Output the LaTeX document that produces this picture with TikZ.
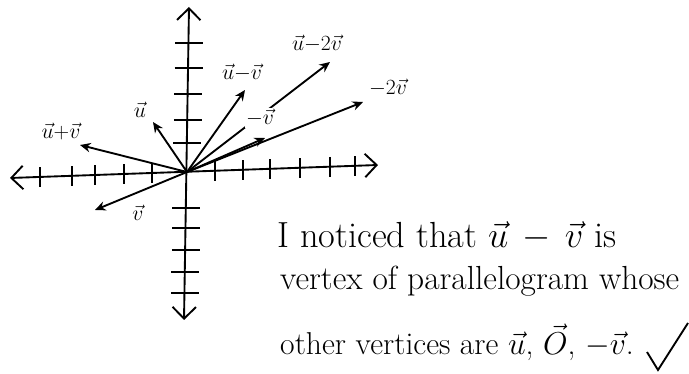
\documentclass[tikz,border=0pt]{standalone}
\usepackage{fix-cm}
\usepackage{amsmath}
\usepackage{tikz}
\usetikzlibrary{arrows.meta}

\tikzset{
  axis/.style={line width=1.6pt, {Straight Barb[length=10pt,width=20pt]}-{Straight Barb[length=10pt,width=20pt]}},
  vec/.style={line width=1.6pt, -{Stealth[length=9pt,width=8pt]}},
  lbl/.style={font=\fontsize{18.5}{21}\selectfont, inner sep=1pt},
  note/.style={font=\fontsize{28.5}{31}\selectfont, anchor=west, inner sep=0pt}
}

\begin{document}
\begin{tikzpicture}[x=0.03cm, y=-0.03cm]
    \useasboundingbox (0,0) rectangle (689,374);

    % Axes
    \coordinate (O) at (187,172);
    \coordinate (xl) at (10,178);
    \coordinate (xr) at (378,165);
    \coordinate (yt) at (189,7);
    \coordinate (yb) at (184,320);
    \draw[axis] (xl) -- (xr);
    \draw[axis] (yb) -- (yt);

    % Ticks
    \foreach \x in {40,72,95,124,152,215,243,270,300,330,355}
        \draw[line width=1.6pt] (\x,{172-(\x-187)*0.035-10}) -- ++(0,20);
    \foreach \y in {43,68,94,120,143,208,228,250,272,293}
        \draw[line width=1.6pt] ({187-(\y-172)*0.016-14},\y) -- ++(28,0);

    % Vector tips
    \coordinate (u) at (153,122);
    \coordinate (upv) at (80,145);
    \coordinate (v) at (95,210);
    \coordinate (umv) at (245,90);
    \coordinate (mv) at (265,138);
    \coordinate (um2v) at (330,62);
    \coordinate (m2v) at (363,102);

    % Vectors
    \draw[vec] (O) -- (u);
    \draw[vec] (O) -- (upv);
    \draw[vec] (O) -- (v);
    \draw[vec] (O) -- (umv);
    \draw[vec] (O) -- (mv);
    \draw[vec] (O) -- (um2v);
    \draw[vec] (O) -- (m2v);

    % Labels
    \node[lbl] (lu) at (140,110) {$\vec{u}$};
    \node[lbl] (lupv) at (61,131) {$\vec{u}{+}\vec{v}$};
    \node[lbl] (lv) at (138,213) {$\vec{v}$};
    \node[lbl] (lumv) at (242,73) {$\vec{u}{-}\vec{v}$};
    \node[lbl, fill=white] (lmv) at (260,118) {${-}\vec{v}$};
    \node[lbl] (lum2v) at (317,44) {$\vec{u}{-}2\vec{v}$};
    \node[lbl] (lm2v) at (388,88) {${-}2\vec{v}$};

    % Note
    \node[note, font=\fontsize{31}{34}\selectfont] (line1) at (277,236) {I noticed that\ $\vec{u}\,-\,\vec{v}$\ is};
    \node[note] (line2) at (280,281) {vertex of parallelogram whose};
    \node[note, font=\fontsize{27}{30}\selectfont] (line3) at (280,342) {other vertices are $\vec{u}$,\ $\vec{O}$,\ $-\vec{v}$.};

    % Check mark
    \draw[line width=1.6pt] (647,352) -- (658,370) -- (688,323);
\end{tikzpicture}
\end{document}
